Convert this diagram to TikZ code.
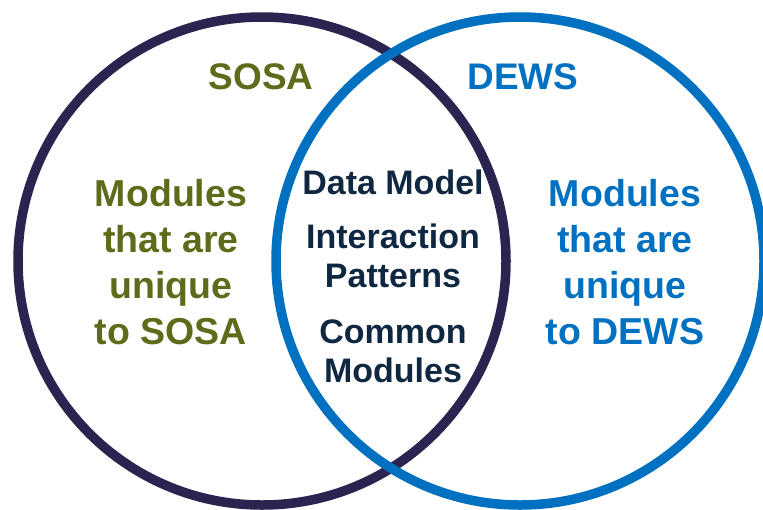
\documentclass[tikz,border=0pt]{standalone}
\usepackage{fontspec}
\setmainfont{Liberation Sans}
\definecolor{sosaring}{HTML}{2C2450}
\definecolor{sosatext}{HTML}{5F6B1A}
\definecolor{dewsblue}{HTML}{0070C0}
\definecolor{commontext}{HTML}{0F2740}
\tikzset{
  ring/.style = {line width=9.5pt},
  title/.style = {font=\bfseries\fontsize{37}{40}\selectfont},
  side/.style = {align=center, font=\bfseries\fontsize{37.5}{46}\selectfont},
  shared/.style = {align=center, text=commontext, font=\bfseries\fontsize{34}{39}\selectfont}
}
\begin{document}
\begin{tikzpicture}[x=1pt, y=-1pt]
        \useasboundingbox (0,0) rectangle (763,509);
        \draw[ring, sosaring] (262,261) circle (244pt);
        \draw[ring, dewsblue] (520,261) circle (244pt);
        \node[title, text=sosatext] (sosa) at (261,77) {SOSA};
        \node[title, text=dewsblue] (dews) at (523,77) {DEWS};
        \node[side, text=sosatext] (onlysosa) at (171,262) {Modules\\that are\\unique\\to SOSA};
        \node[side, text=dewsblue] (onlydews) at (625,262) {Modules\\that are\\unique\\to DEWS};
        \node[shared] (model) at (393,182) {Data Model};
        \node[shared] (patterns) at (393,256) {Interaction\\Patterns};
        \node[shared] (common) at (393,351) {Common\\Modules};
    \end{tikzpicture}
\end{document}
